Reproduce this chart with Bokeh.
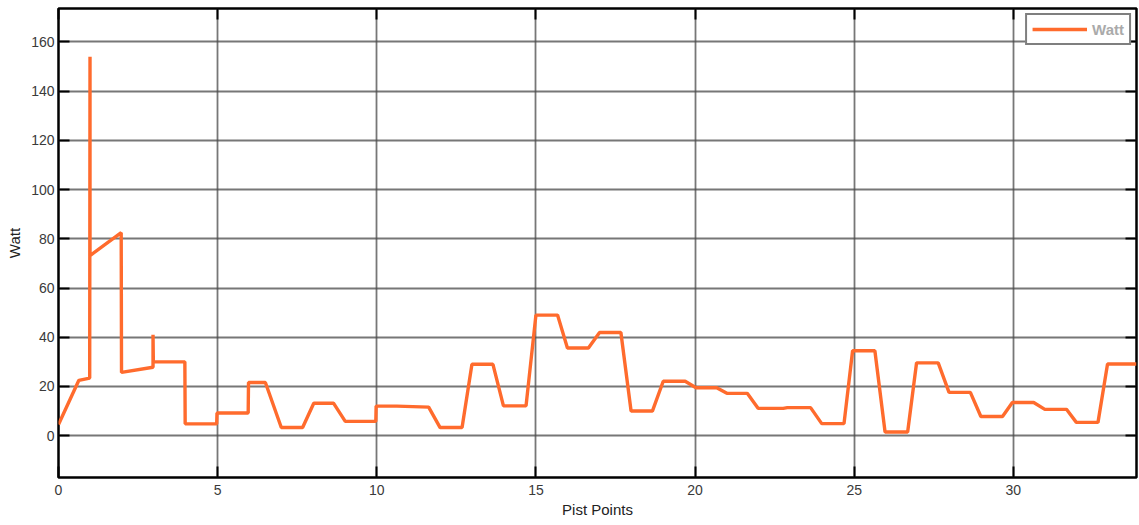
from bokeh.plotting import figure
from bokeh.models import Range1d, LinearAxis, FixedTicker, Legend, LegendItem
from bokeh.embed import file_html
from bokeh.resources import INLINE

# Pist point positions and measured power (Watt)
pist_x = [0, 0.64, 0.98, 0.99, 0.99, 1.97, 1.98, 2.97, 2.97, 2.98, 3.97, 3.98,
          4.97, 4.98, 5.96, 5.97, 6.5, 7.0, 7.67, 8.02, 8.64, 9.01, 9.97, 9.98,
          10.63, 11.63, 11.99, 12.68, 12.99, 13.65, 13.98, 14.69, 15.0, 15.68,
          15.99, 16.65, 17.0, 17.67, 17.99, 18.66, 19.0, 19.69, 20.03, 20.68,
          21.0, 21.64, 21.98, 22.77, 22.9, 23.63, 23.98, 24.68, 24.95, 25.65,
          25.97, 26.68, 26.96, 27.64, 27.98, 28.65, 28.98, 29.66, 29.97, 30.64,
          30.99, 31.67, 31.98, 32.66, 32.96, 33.87]
watt = [4.5, 22.5, 23.4, 154, 73.2, 82.5, 25.7, 27.8, 41.0, 30.0, 30.0, 4.8,
        4.8, 9.2, 9.2, 21.6, 21.6, 3.3, 3.3, 13.2, 13.2, 5.8, 5.8, 12.0,
        12.0, 11.6, 3.3, 3.3, 29.0, 29.0, 12.1, 12.1, 49.0, 49.0,
        35.6, 35.6, 41.9, 41.9, 10.0, 10.0, 22.1, 22.1, 19.5, 19.5,
        17.2, 17.2, 11.1, 11.1, 11.4, 11.4, 4.9, 4.9, 34.5, 34.5,
        1.5, 1.5, 29.6, 29.6, 17.6, 17.6, 7.8, 7.8, 13.5, 13.5,
        10.7, 10.7, 5.4, 5.4, 29.1, 29.1]

x_ticks = [0, 5, 10, 15, 20, 25, 30]
y_ticks = [0, 20, 40, 60, 80, 100, 120, 140, 160]

FONT = "Liberation Sans"

p = figure(width=1139, height=525, output_backend="svg", toolbar_location=None,
           x_range=Range1d(0, 33.87), y_range=Range1d(-17.0, 173.6),
           x_axis_label="Pist Points", y_axis_label="Watt",
           min_border_left=58, min_border_right=3, min_border_top=8,
           min_border_bottom=48)
p.background_fill_color = "white"
p.border_fill_color = "white"
p.outline_line_color = "black"
p.outline_line_width = 2.5

p.xaxis.ticker = FixedTicker(ticks=x_ticks)
p.yaxis.ticker = FixedTicker(ticks=y_ticks)

for ax in (p.xaxis[0], p.yaxis[0]):
    ax.axis_line_color = None
    ax.major_tick_in = 11
    ax.major_tick_out = 0
    ax.major_tick_line_color = "black"
    ax.major_tick_line_width = 2
    ax.minor_tick_line_color = None
    ax.major_label_text_font = FONT
    ax.major_label_text_font_size = "14px"
    ax.major_label_text_color = "#3a3a3a"
    ax.axis_label_text_font = FONT
    ax.axis_label_text_font_size = "15px"
    ax.axis_label_text_font_style = "normal"
    ax.axis_label_text_color = "#222222"
p.xaxis.major_label_standoff = 7
p.yaxis.major_label_standoff = 4
p.xaxis.axis_label_standoff = 3
p.yaxis.axis_label_standoff = 5

# mirrored tick marks on top and right (no labels)
def mirror_axis(ticks):
    return LinearAxis(ticker=FixedTicker(ticks=ticks), major_label_text_color=None,
                      major_label_text_font_size="1px",
                      axis_line_color=None, major_tick_in=11, major_tick_out=0,
                      major_tick_line_color="black", major_tick_line_width=2,
                      minor_tick_line_color=None, major_label_standoff=0)

p.add_layout(mirror_axis(x_ticks), "above")
p.add_layout(mirror_axis(y_ticks), "right")

for g in (p.xgrid[0], p.ygrid[0]):
    g.grid_line_color = "#4a4a4a"
    g.grid_line_width = 1.8
    g.grid_line_alpha = 0.75

r = p.line(pist_x, watt, line_color="#ff6b2d", line_width=3.4)

legend = Legend(items=[LegendItem(label="Watt", renderers=[r])], location="top_right")
legend.label_text_font = FONT
legend.label_text_font_size = "15px"
legend.label_text_font_style = "bold"
legend.label_text_color = "#aaaaaa"
legend.border_line_color = "black"
legend.border_line_width = 2
legend.background_fill_color = "white"
legend.background_fill_alpha = 1
legend.glyph_width = 55
legend.glyph_height = 18
legend.label_standoff = 5
legend.padding = 5
legend.margin = 5
legend.spacing = 0
p.add_layout(legend)

open("out.html", "w").write(file_html(p, INLINE))
